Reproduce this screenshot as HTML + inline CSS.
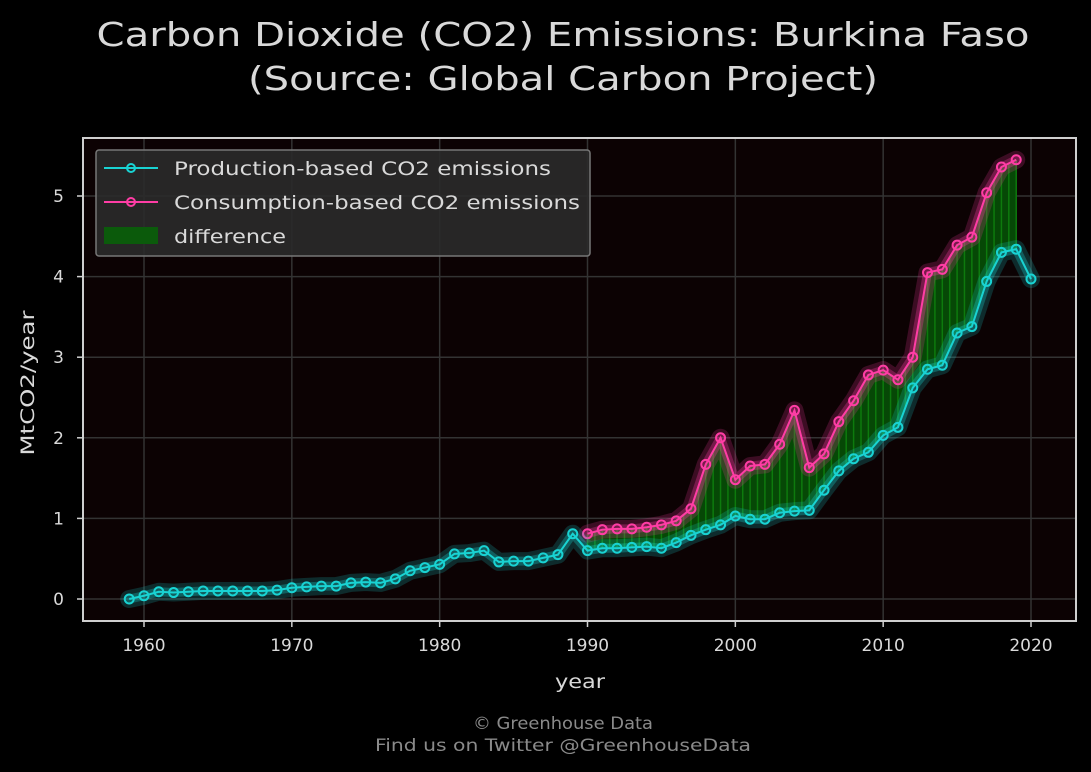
<!DOCTYPE html>
<html><head><meta charset="utf-8"><style>
html,body{margin:0;padding:0;background:#000;}
svg{display:block;font-family:"DejaVu Sans","Liberation Sans",sans-serif;}
</style></head><body>
<svg id="chart" width="1091" height="772" viewBox="0 0 1091 772">
<rect width="1091" height="772" fill="#000"/>
<text x="563" y="46" text-anchor="middle" fill="#d9d9d9" font-size="33" textLength="933" lengthAdjust="spacingAndGlyphs">Carbon Dioxide (CO2) Emissions: Burkina Faso</text>
<text x="563" y="90" text-anchor="middle" fill="#d9d9d9" font-size="33" textLength="630" lengthAdjust="spacingAndGlyphs">(Source: Global Carbon Project)</text>
<rect x="83" y="138" width="993" height="483" fill="#0c0203"/>
<g id="grid"></g>
<g id="fillg"></g>
<g id="series"></g>
<rect x="83" y="138" width="993" height="483" fill="none" stroke="#cfcfcf" stroke-width="2"/>
<g id="ticks"></g>
<text x="580" y="688" text-anchor="middle" fill="#d9d9d9" font-size="19" textLength="50" lengthAdjust="spacingAndGlyphs">year</text>
<text transform="translate(34,383) rotate(-90)" text-anchor="middle" fill="#d9d9d9" font-size="19" textLength="145" lengthAdjust="spacingAndGlyphs">MtCO2/year</text>
<g>
<rect x="96" y="150" width="494" height="106" fill="#2a2a2a" fill-opacity="0.9" stroke="#777" stroke-width="1.5" rx="3"/>
<line x1="104" y1="168" x2="158" y2="168" stroke="#19d3d3" stroke-width="2"/>
<circle cx="131" cy="168" r="4" fill="none" stroke="#19d3d3" stroke-width="2"/>
<text x="174" y="175" fill="#d9d9d9" font-size="19" textLength="377" lengthAdjust="spacingAndGlyphs">Production-based CO2 emissions</text>
<line x1="104" y1="202" x2="158" y2="202" stroke="#ff3da5" stroke-width="2"/>
<circle cx="131" cy="202" r="4" fill="none" stroke="#ff3da5" stroke-width="2"/>
<text x="174" y="209" fill="#d9d9d9" font-size="19" textLength="406" lengthAdjust="spacingAndGlyphs">Consumption-based CO2 emissions</text>
<rect x="104" y="227" width="54" height="17" fill="#0b5a0b"/>
<text x="174" y="243" fill="#d9d9d9" font-size="19" textLength="112" lengthAdjust="spacingAndGlyphs">difference</text>
</g>
<text x="563" y="729" text-anchor="middle" fill="#8a8a8a" font-size="17" textLength="180" lengthAdjust="spacingAndGlyphs">© Greenhouse Data</text>
<text x="563" y="751" text-anchor="middle" fill="#8a8a8a" font-size="17" textLength="376" lengthAdjust="spacingAndGlyphs">Find us on Twitter @GreenhouseData</text>
</svg>
<script>
const prodYears = [];
for (let y = 1959; y <= 2020; y++) prodYears.push(y);
const prodValues = [0,0.04,0.09,0.08,0.09,0.1,0.1,0.1,0.1,0.1,0.11,0.14,0.15,0.16,0.16,0.2,0.21,0.2,0.25,0.35,0.39,0.43,0.56,0.57,0.6,0.46,0.47,0.47,0.51,0.55,0.81,0.6,0.63,0.63,0.64,0.65,0.63,0.7,0.79,0.86,0.92,1.03,0.99,0.99,1.07,1.09,1.1,1.35,1.59,1.74,1.82,2.03,2.13,2.62,2.85,2.9,3.3,3.38,3.94,4.3,4.34,3.97];
const consYears = [];
for (let y = 1990; y <= 2019; y++) consYears.push(y);
const consValues = [0.81,0.86,0.87,0.87,0.89,0.92,0.97,1.12,1.67,2.0,1.48,1.65,1.67,1.92,2.34,1.63,1.8,2.2,2.46,2.78,2.84,2.72,3.0,4.05,4.09,4.39,4.49,5.04,5.36,5.45];
const xTicks = [1960,1970,1980,1990,2000,2010,2020];
const yTicks = [0,1,2,3,4,5];

const NS = "http://www.w3.org/2000/svg";
const xs = y => 144 + (y - 1960) * (1031 - 144) / 60;
const ys = v => 599 - v * (599 - 196) / 5;
function mk(tag, attrs, parent) {
  const e = document.createElementNS(NS, tag);
  for (const k in attrs) e.setAttribute(k, attrs[k]);
  parent.appendChild(e);
  return e;
}
const grid = document.getElementById('grid');
const ticks = document.getElementById('ticks');
xTicks.forEach(t => {
  const l = mk('line', {x1: xs(t), x2: xs(t), y1: 138, y2: 621, stroke: '#333', 'stroke-width': 1.5}, grid);
  
  
  const tk = mk('line', {x1: xs(t), x2: xs(t), y1: 621, y2: 627, stroke: '#cfcfcf', 'stroke-width': 1.5}, ticks);
  
  
  const tx = mk('text', {x: xs(t), y: 651, 'text-anchor': 'middle', fill: '#d9d9d9', 'font-size': 17}, ticks);
  tx.textContent = t;
  
  
});
yTicks.forEach(t => {
  const l = mk('line', {x1: 83, x2: 1076, y1: ys(t), y2: ys(t), stroke: '#333', 'stroke-width': 1.5}, grid);
  
  
  const tk = mk('line', {x1: 77, x2: 83, y1: ys(t), y2: ys(t), stroke: '#cfcfcf', 'stroke-width': 1.5}, ticks);
  
  
  const tx = mk('text', {x: 64, y: ys(t) + 6, 'text-anchor': 'end', fill: '#d9d9d9', 'font-size': 17}, ticks);
  tx.textContent = t;
  
  
});
const fillg = document.getElementById('fillg');
const prodAt = y => prodValues[prodYears.indexOf(y)];
let pts = consYears.map((y, i) => xs(y) + ',' + ys(consValues[i]));
pts = pts.concat(consYears.slice().reverse().map(y => xs(y) + ',' + ys(prodAt(y))));
const poly = mk('polygon', {points: pts.join(' '), fill: '#064806'}, fillg);


consYears.forEach((y, i) => {
  for (const off of [0, 0.5]) {
    const yy = y + off;
    if (yy > consYears[consYears.length - 1]) continue;
    const c = off ? (consValues[i] + (consValues[i + 1] ?? consValues[i])) / 2 : consValues[i];
    const p = off ? (prodAt(y) + (prodAt(y + 1) ?? prodAt(y))) / 2 : prodAt(y);
    const l = mk('line', {x1: xs(yy), x2: xs(yy), y1: ys(c), y2: ys(p), stroke: '#0d7a0d', 'stroke-width': 1.5}, fillg);
    
    
  }
});
const series = document.getElementById('series');
function drawSeries(years, vals, color, name) {
  const d = years.map((y, i) => (i ? 'L' : 'M') + xs(y) + ',' + ys(vals[i])).join('');
  const g1 = mk('path', {d: d, fill: 'none', stroke: color, 'stroke-opacity': 0.2, 'stroke-width': 18, 'stroke-linejoin': 'round', 'stroke-linecap': 'round'}, series);
  
  
  const g2 = mk('path', {d: d, fill: 'none', stroke: color, 'stroke-opacity': 0.3, 'stroke-width': 9, 'stroke-linejoin': 'round', 'stroke-linecap': 'round'}, series);
  
  
  const ln = mk('path', {d: d, fill: 'none', stroke: color, 'stroke-width': 2}, series);
  
  
  years.forEach((y, i) => {
    const c = mk('circle', {cx: xs(y), cy: ys(vals[i]), r: 4.5, fill: 'none', stroke: color, 'stroke-width': 2}, series);
    
    
  });
}
drawSeries(consYears, consValues, '#ff3da5', 'consumption');
drawSeries(prodYears, prodValues, '#19d3d3', 'production');
</script>
</body></html>
